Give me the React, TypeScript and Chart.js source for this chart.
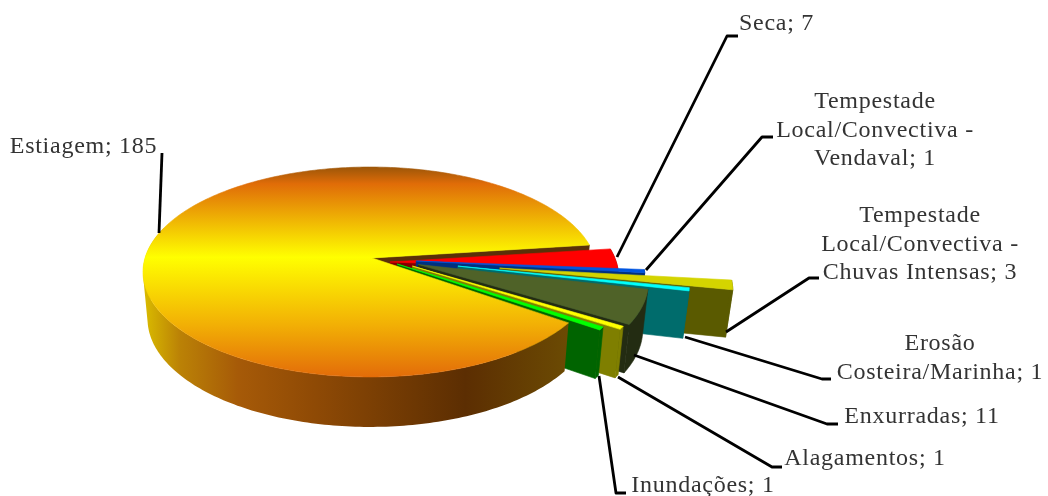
import React, { useEffect, useRef } from "react";
import { Chart, registerables } from "chart.js";

Chart.register(...registerables);

const categories = ["Estiagem", "Seca", "Tempestade Local/Convectiva - Vendaval", "Tempestade Local/Convectiva - Chuvas Intensas", "Erosão Costeira/Marinha", "Enxurradas", "Alagamentos", "Inundações"];
const values = [185, 7, 1, 3, 1, 11, 1, 1];
const explosions = [0, 20, 46, 128, 87, 48, 42, 27];
const explosionDrops = [0, 4, 3, 10, 8, 6.5, 8, 6];
const topColors = ["#ffc000", "#ff0000", "#0055e0", "#d4d400", "#00ffff", "#4f6228", "#ffff00", "#00ff00"];
const wallColors = ["#5a3008", "#800000", "#00307f", "#5a5a00", "#006c6c", "#232c12", "#7f7f00", "#006400"];

const labelLines = [
  ["Estiagem; 185"],
  ["Seca; 7"],
  ["Tempestade", "Local/Convectiva -", "Vendaval; 1"],
  ["Tempestade", "Local/Convectiva -", "Chuvas Intensas; 3"],
  ["Erosão", "Costeira/Marinha; 1"],
  ["Enxurradas; 11"],
  ["Alagamentos; 1"],
  ["Inundações; 1"],
];
const labelCenters = [83.5, 776.5, 875, 920, 940, 922, 865, 703];
const labelBaselines = [153, 30, 108, 222, 350, 423, 465, 492];
const labelLineHeight = 28.7;
const leaders = [
  [[159, 233], [162, 153]],
  [[617, 257], [727, 36], [738, 36]],
  [[646, 270], [762, 137], [773, 137]],
  [[726, 332], [809, 278], [819, 278]],
  [[685, 337], [822, 379], [831, 379]],
  [[634, 355], [827, 424], [838, 424]],
  [[618, 377], [772, 467], [782, 467]],
  [[599, 376], [616, 493], [626, 493]],
];

const G = 0.1333;
const Y_SCALE = 0.4582;
const BOTTOM_X_SCALE = 0.98;
const BOTTOM_Y_SCALE = 1.03;
const DEPTH = 46.4;
const MAIN_APEX_SHIFT = 2;

const pie3d = {
  id: "pie3d",
  beforeDatasetsDraw(chart: any) {
    const ctx: CanvasRenderingContext2D = chart.ctx;
    const arcs = chart.getDatasetMeta(0).data;
    const first = arcs[0].getProps(["x", "y", "outerRadius"], true);
    const cx = first.x, cy = first.y, R = first.outerRadius;
    const proj = (u: number, v: number, bottom: boolean): [number, number] => {
      const w = 1 - G * v;
      let x = (R * u) / w, y = (R * Y_SCALE * v) / w;
      if (bottom) { x *= BOTTOM_X_SCALE; y = y * BOTTOM_Y_SCALE + DEPTH; }
      return [cx + x, cy + y];
    };
    const poly = (pts: [number, number][], fill: any) => {
      ctx.beginPath();
      pts.forEach((p, i) => (i ? ctx.lineTo(p[0], p[1]) : ctx.moveTo(p[0], p[1])));
      ctx.closePath();
      ctx.fillStyle = fill;
      ctx.strokeStyle = fill;
      ctx.lineWidth = 0.6;
      ctx.fill();
      ctx.stroke();
    };
    const geo = arcs.map((el: any, i: number) => {
      const p = el.getProps(["startAngle", "endAngle"], true);
      const ou = (el.options.offset || 0) / R;
      const ov = explosionDrops[i] / (R * Y_SCALE);
      const arcPts = (bottom: boolean, endLimit?: number) => {
        const stop = endLimit === undefined ? p.endAngle : Math.min(endLimit, p.endAngle);
        const n = Math.max(2, Math.ceil(((stop - p.startAngle) * 180) / Math.PI));
        const out: [number, number][] = [];
        for (let k = 0; k <= n; k++) {
          const a = p.startAngle + ((stop - p.startAngle) * k) / n;
          out.push(proj(ou + Math.cos(a), ov + Math.sin(a), bottom));
        }
        return out;
      };
      const shift = i === 0 ? MAIN_APEX_SHIFT / R : 0;
      return { top: arcPts(false), bot: arcPts(true), frontTop: arcPts(false, Math.PI * 1.1), frontBot: arcPts(true, Math.PI * 1.1), apexT: proj(ou + shift, ov, false), apexB: proj(ou + shift, ov, true), i };
    });
    const endWall = (g: any, fill: any) =>
      poly([g.apexT, g.top[g.top.length - 1], g.bot[g.bot.length - 1], g.apexB], fill);
    const topFace = (g: any, fill: any) => poly([g.apexT, ...g.top], fill);

    endWall(geo[0], wallColors[0]);
    for (let i = 1; i < geo.length; i++) {
      endWall(geo[i], wallColors[i]);
      poly([...geo[i].top, ...[...geo[i].bot].reverse()], wallColors[i]);
      topFace(geo[i], topColors[i]);
    }
    const wg = ctx.createLinearGradient(146, 0, 566, 0);
    [[0, "#d8b800"], [0.08, "#bb8206"], [0.22, "#a65a08"], [0.4, "#8f4a05"], [0.76, "#5c2e02"], [1, "#6b4a03"]].forEach((s: any) => wg.addColorStop(s[0], s[1]));
    const ft = geo[0].frontTop, fb = geo[0].frontBot;
    ctx.beginPath();
    for (let k = 0; k < ft.length - 1; k++) {
      const q: [number, number][] = [ft[k], ft[k + 1], fb[k + 1], fb[k]];
      let area = 0;
      q.forEach((a, j) => {
        const b = q[(j + 1) % 4];
        area += a[0] * b[1] - b[0] * a[1];
      });
      if (area < 0) q.reverse();
      q.forEach((pt, j) => (j ? ctx.lineTo(pt[0], pt[1]) : ctx.moveTo(pt[0], pt[1])));
      ctx.closePath();
    }
    ctx.fillStyle = wg;
    ctx.fill("nonzero");
    const tg = ctx.createLinearGradient(0, 167, 0, 377);
    [[0, "#9c5608"], [0.08, "#e06c08"], [0.43, "#ffff00"], [0.75, "#f2b005"], [1, "#e36c09"]].forEach((s: any) => tg.addColorStop(s[0], s[1]));
    topFace(geo[0], tg);

    ctx.save();
    ctx.strokeStyle = "#000";
    ctx.lineWidth = 2.8;
    ctx.lineJoin = "round";
    leaders.forEach((l) => {
      ctx.beginPath();
      l.forEach((p, i) => (i ? ctx.lineTo(p[0], p[1]) : ctx.moveTo(p[0], p[1])));
      ctx.stroke();
    });
    ctx.fillStyle = "#333";
    ctx.font = '24px "Liberation Serif"';
    (ctx as any).letterSpacing = "0.73px";
    ctx.textAlign = "center";
    ctx.textBaseline = "alphabetic";
    labelLines.forEach((lines, i) => {
      lines.forEach((t, k) => ctx.fillText(t, labelCenters[i], labelBaselines[i] + k * labelLineHeight));
    });
    ctx.restore();
    return false;
  },
};

export default function App() {
  const ref = useRef<HTMLCanvasElement>(null);
  useEffect(() => {
    document.body.style.margin = "0";
    const chart = new Chart(ref.current!, {
      type: "pie",
      data: {
        labels: categories,
        datasets: [{ data: values, backgroundColor: topColors, borderWidth: 0, offset: explosions }],
      },
      options: {
        responsive: false,
        animation: false,
        devicePixelRatio: 1,
        rotation: 125.5,
        radius: 225,
        layout: { padding: { left: 145, right: 453, top: 30, bottom: 10 } },
        plugins: { legend: { display: false }, tooltip: { enabled: false } },
      } as any,
      plugins: [pie3d],
    });
    return () => chart.destroy();
  }, []);
  return (
    <div style={{ width: 1048, height: 496, background: "#fff" }}>
      <canvas ref={ref} width={1048} height={496} style={{ display: "block" }} />
    </div>
  );
}
